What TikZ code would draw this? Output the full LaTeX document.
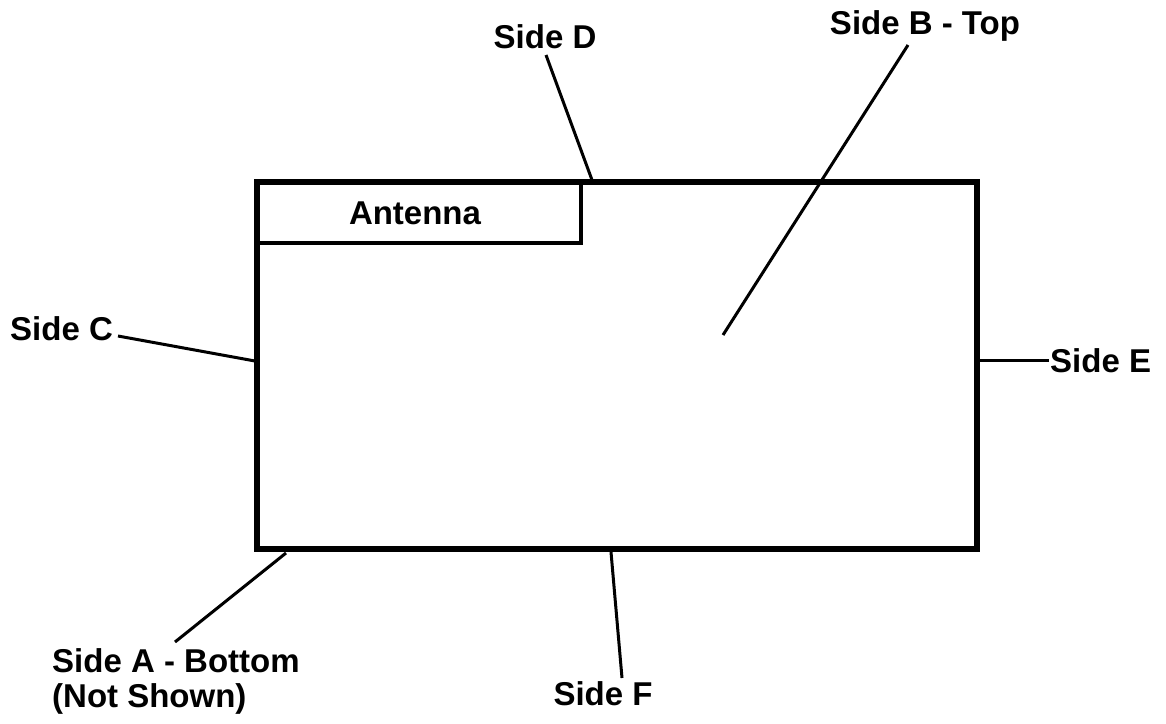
\documentclass[tikz,border=0pt]{standalone}
\usepackage{fontspec}
\setmainfont{Liberation Sans}
\usetikzlibrary{positioning}

\tikzset{
  lbl/.style={font=\fontsize{33}{35}\selectfont\bfseries, inner sep=0pt, anchor=base},
  lead/.style={line width=3pt},
}

\begin{document}
\begin{tikzpicture}[x=1pt,y=-1pt]
  \useasboundingbox (0,0) rectangle (1166,723);
  \draw[line width=6pt] (257,182) rectangle (977,549);
  \draw[line width=3.5pt] (257,182) |- (581,243) -- (581,182);
  \node[lbl] (ant) at (415,224) {Antenna};

  \node[lbl] (sideD) at (545,48) {Side D};
  \node[lbl] (sideB) at (925,34) {Side B - Top};
  \node[lbl, anchor=base west] (sideC) at (10,340) {Side C};
  \node[lbl, anchor=base west] (sideE) at (1050,372) {Side E};
  \node[lbl] (sideF) at (603,705) {Side F};
  \node[lbl, anchor=base west, align=left] (sideA) at (52,707) {Side A - Bottom\\(Not Shown)};

  \coordinate (d1) at (546,55);  \coordinate (d2) at (592,180);
  \coordinate (b1) at (908,45);  \coordinate (b2) at (723,335);
  \coordinate (c1) at (118,336); \coordinate (c2) at (255,361);
  \coordinate (e1) at (977,360); \coordinate (e2) at (1049,360);
  \coordinate (f1) at (611,552); \coordinate (f2) at (622,678);
  \coordinate (a1) at (286,553); \coordinate (a2) at (175,642);

  \draw[lead] (d1) -- (d2);
  \draw[lead] (b1) -- (b2);
  \draw[lead] (c1) -- (c2);
  \draw[lead] (e1) -- (e2);
  \draw[lead] (f1) -- (f2);
  \draw[lead] (a1) -- (a2);
\end{tikzpicture}
\end{document}
